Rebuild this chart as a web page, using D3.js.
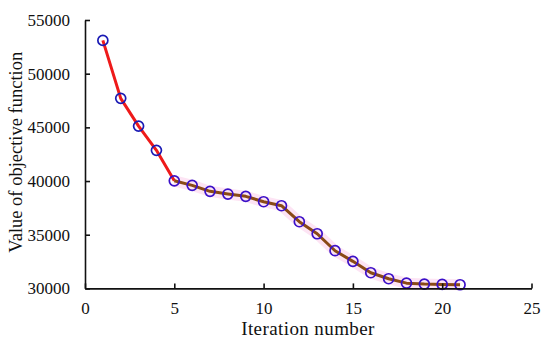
<!DOCTYPE html>
<html>
<head>
<meta charset="utf-8">
<script src="https://cdn.jsdelivr.net/npm/d3@7"></script>
<style>
  body { margin: 0; background: #fff; }
  svg { display: block; }
  text { font-family: "Liberation Serif", "DejaVu Serif", serif; fill: #111; }
</style>
</head>
<body>
<div id="chart"></div>
<script>
"use strict";
// objective function vs iteration

var iterations = d3.range(1, 22);
var objective = [53100, 47700, 45120, 42860, 40020, 39600, 39040, 38790, 38575, 38073,
                 37700, 36210, 35090, 33510, 32520, 31460, 30900, 30490, 30400, 30370, 30340];
var xTicks = [0, 5, 10, 15, 20, 25];
var yTicks = [30000, 35000, 40000, 45000, 50000, 55000];
var splitAt = 5; // red part ends at iteration 5

var svgWidth = 550, svgHeight = 346;
var margin = {left: 85, right: 18.5, top: 20, bottom: 57.6};

var svg = d3.select("#chart").append("svg")
    .attr("width", svgWidth)
    .attr("height", svgHeight);

var x = d3.scaleLinear().domain([0, 25]).range([margin.left, svgWidth - margin.right]);
var y = d3.scaleLinear().domain([30000, 55000]).range([svgHeight - margin.bottom, margin.top]);

var pts = iterations.map(function(it, i) { return {x: it, y: objective[i]}; });

var line = d3.line().x(function(d) { return x(d.x); }).y(function(d) { return y(d.y); });

// soft pink glow under the second part
var tail = pts.filter(function(d) { return d.x >= splitAt; });
var head = pts.filter(function(d) { return d.x <= splitAt; });

svg.append("path")
    .attr("d", line(tail))
    .attr("fill", "none")
    .attr("stroke", "#fde4f4")
    .attr("stroke-width", 11)
    .attr("stroke-linejoin", "round");

svg.append("path")
    .attr("d", line(head))
    .attr("fill", "none")
    .attr("stroke", "#ee1a1a")
    .attr("stroke-width", 3)
    .attr("stroke-linejoin", "round");

svg.append("path")
    .attr("d", line(tail))
    .attr("fill", "none")
    .attr("stroke", "#8a4a16")
    .attr("stroke-width", 3)
    .attr("stroke-linejoin", "round");

svg.selectAll("circle.pt")
    .data(pts)
    .enter().append("circle")
    .attr("class", "pt")
    .attr("cx", function(d) { return x(d.x); })
    .attr("cy", function(d) { return y(d.y); })
    .attr("r", 5)
    .attr("fill", "none")
    .attr("stroke", function(d) { return d.x <= 4 ? "#1a1ab4" : "#3a10c8"; })
    .attr("stroke-width", 1.7);

// axes, ticks inward
var xAxis = d3.axisBottom(x).tickValues(xTicks).tickFormat(d3.format("d"))
    .tickSizeInner(-5).tickSizeOuter(0).tickPadding(14);
var yAxis = d3.axisLeft(y).tickValues(yTicks).tickFormat(d3.format("d"))
    .tickSizeInner(-5).tickSizeOuter(0).tickPadding(15);

var gx = svg.append("g")
    .attr("transform", "translate(0," + y(30000) + ")")
    .call(xAxis);
var gy = svg.append("g")
    .attr("transform", "translate(" + x(0) + ",0)")
    .call(yAxis);

[gx, gy].forEach(function(g) {
    g.select(".domain").attr("stroke", "#111").attr("stroke-width", 1.6);
    g.selectAll(".tick line").attr("stroke", "#111").attr("stroke-width", 1.6);
    g.selectAll(".tick text")
        .attr("font-family", "Liberation Serif, DejaVu Serif, serif")
        .attr("font-size", 17)
        .attr("fill", "#111");
});
gx.selectAll(".tick text").attr("dy", "0.71em");

svg.append("text")
    .attr("x", 308)
    .attr("y", 335)
    .attr("text-anchor", "middle")
    .attr("font-size", 19)
    .attr("letter-spacing", 0.4)
    .text("Iteration number");

svg.append("text")
    .attr("transform", "translate(22," + ((y(30000) + y(55000)) / 2 - 2) + ") rotate(-90)")
    .attr("text-anchor", "middle")
    .attr("font-size", 18.5)
    .text("Value of objective function");
</script>
</body>
</html>
